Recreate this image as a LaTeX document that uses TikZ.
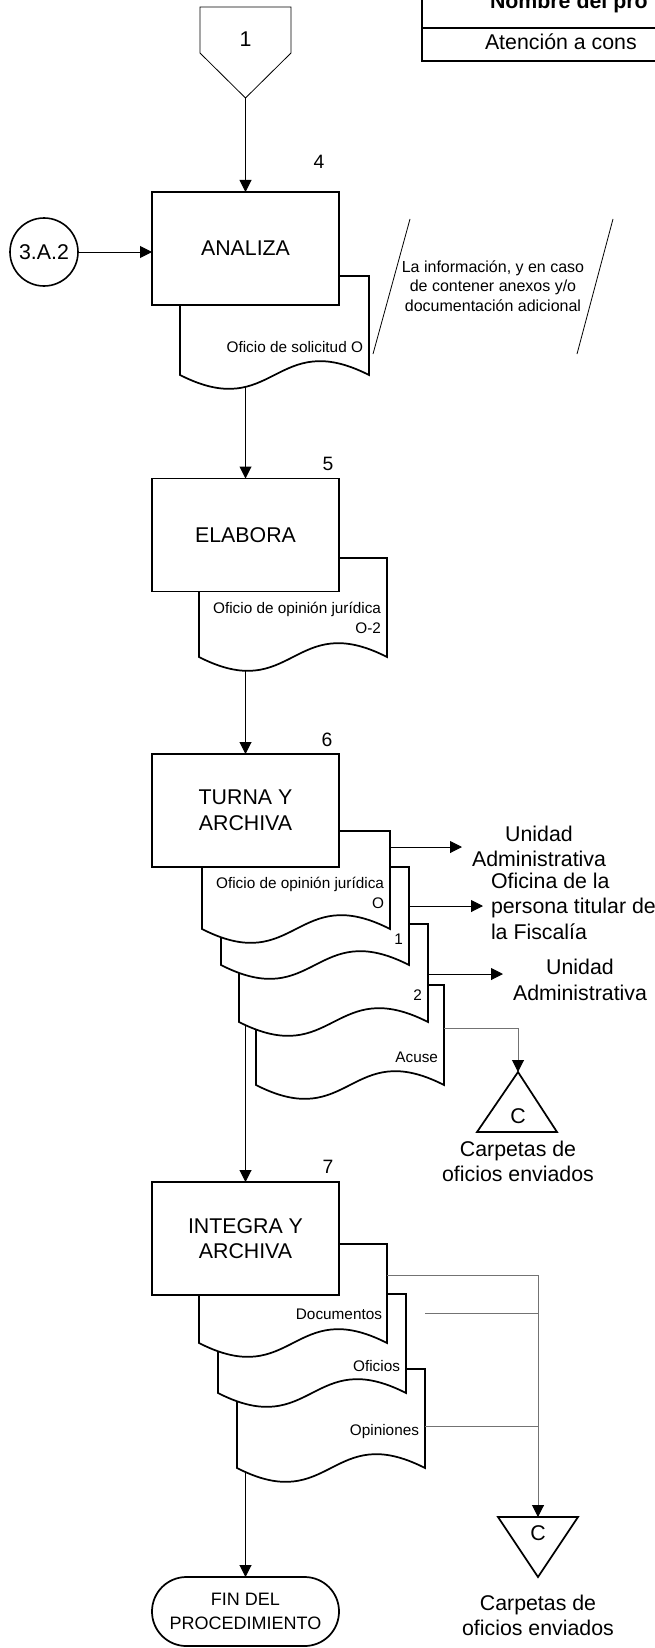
\documentclass[tikz,border=0pt]{standalone}
\usepackage{fontspec}
\setmainfont{Liberation Sans}
\usetikzlibrary{arrows.meta}
\pgfdeclarelayer{back}
\pgfsetlayers{back,main}
\newcommand\FtBig{\fontsize{16}{19.2}\selectfont}
\newcommand\FtNum{\fontsize{14.5}{17}\selectfont}
\newcommand\FtDoc{\fontsize{11.5}{15}\selectfont}
\newcommand\FtAnn{\fontsize{12}{14.6}\selectfont}
\newcommand\FtFin{\fontsize{13.5}{18}\selectfont}
\newcommand\DocShape[4]{\path[docstyle] (#1,#2) -- (#3,#2) -- (#3,#4) .. controls ({(#1+#3)/2},{#4-48}) and ({(#1+#3)/2},{#4+48}) .. (#1,#4) -- cycle;}
\begin{document}
\begin{tikzpicture}[x=0.75pt,y=-0.75pt,
  every node/.style={inner sep=0pt, outer sep=0pt},
  procbox/.style={draw, fill=white, line width=1.3pt, minimum width=140.25pt, minimum height=84.75pt, align=center, font=\FtBig},
  docstyle/.style={draw, fill=white, line width=1.3pt, line join=miter},
  doclabel/.style={font=\FtDoc, align=right, anchor=east},
  numlabel/.style={font=\FtNum},
  biglabel/.style={font=\FtBig, align=center},
  arr/.style={-{Triangle[length=9pt,width=9pt]}, line width=0.75pt},
  grayline/.style={line width=0.75pt, draw=black!55},
  grayarr/.style={grayline, -{Triangle[length=9pt,width=9pt,color=black]}},
  tri/.style={draw, line width=1.3pt, line join=miter},
  thinline/.style={line width=0.6pt}
]
\useasboundingbox (0,0) rectangle (654,1648);

% header table
\draw[line width=1.5pt] (422,-5) -- (422,61) -- (660,61);
\draw[line width=1.5pt] (422,28) -- (660,28);
\node[anchor=base west, font=\FtBig\bfseries] (tname) at (490,8.5) {Nombre del pro};
\node[anchor=base west, font=\FtBig] (tval) at (485,50) {Atención a cons};

% off-page connector 1
\draw[thinline] (200,7) -- (291,7) -- (291,53) -- (245.5,98) -- (200,53) -- cycle;
\node[font=\FtBig] (p1) at (245.5,39) {1};
\coordinate (p1tip) at (245.5,98);

% step numbers
\node[numlabel] (n4) at (319,162) {4};
\node[numlabel] (n5) at (328,464) {5};
\node[numlabel] (n6) at (327,740) {6};
\node[numlabel] (n7) at (328,1167) {7};

% ANALIZA
\DocShape{180}{276}{369}{375}
\node[procbox] (analiza) at (245.5,248.5) {ANALIZA};
\node[doclabel] (dl0) at (363,347) {Oficio de solicitud O};
\node[circle, draw, line width=1.2pt, minimum size=51pt, font=\FtBig] (c3a2) at (44,252) {3.A.2};
\draw[arr] (c3a2) -- (c3a2 -| analiza.west);

% annotation
\draw[thinline] (410,219) -- (373,354);
\draw[thinline] (613,219) -- (577,354);
\node[font=\FtAnn, align=center] (annot) at (493,286) {La información, y en caso\\de contener anexos y/o\\documentación adicional};

% ELABORA
\DocShape{199}{558}{387}{657}
\node[procbox] (elabora) at (245.5,535) {ELABORA};
\node[doclabel] (dl1) at (381,618) {Oficio de opinión jurídica\\O-2};

% TURNA Y ARCHIVA
\DocShape{256}{985}{444}{1085}
\DocShape{239}{924}{428}{1022}
\DocShape{221}{867}{409}{965}
\DocShape{202}{831}{390}{929}
\node[procbox] (turna) at (245.5,810.5) {TURNA Y\\ARCHIVA};
\node[doclabel] (dl2) at (384,892.5) {Oficio de opinión jurídica\\O};
\node[doclabel] (dl3) at (403,939) {1};
\node[doclabel] (dl4) at (422,995) {2};
\node[doclabel] (dl5) at (438,1057) {Acuse};

\coordinate (d1r) at (390,847);
\coordinate (d2r) at (409,906);
\coordinate (d3r) at (428,974);
\coordinate (d4r) at (444,1028);
\coordinate (ua1tip) at (462,847);
\coordinate (ofitip) at (483,906);
\coordinate (ua2tip) at (503,974);
\node[biglabel] (ua1) at (539,846.5) {Unidad\\Administrativa};
\node[font=\FtBig, align=left, anchor=west] (ofi) at (491,906) {Oficina de la\\persona titular de\\la Fiscalía};
\node[biglabel] (ua2) at (580,980) {Unidad\\Administrativa};
\draw[arr] (d1r) -- (ua1tip);
\draw[arr] (d2r) -- (ofitip);
\draw[arr] (d3r) -- (ua2tip);

% archive triangle 1
\draw[tri] (518,1072) -- (557,1132) -- (477,1132) -- cycle;
\coordinate (tri1top) at (518,1072);
\node[font=\FtBig] (tc1) at (518,1116) {C};
\node[biglabel] (carp1) at (518,1161.5) {Carpetas de\\oficios enviados};
\draw[grayarr] (d4r) -| (tri1top);

% INTEGRA Y ARCHIVA
\DocShape{237}{1369}{425}{1468}
\DocShape{218}{1294}{406}{1393}
\DocShape{199}{1244}{387}{1343}
\node[procbox] (integra) at (245.5,1238.5) {INTEGRA Y\\ARCHIVA};
\node[doclabel] (dl6) at (382,1314) {Documentos};
\node[doclabel] (dl7) at (400,1366) {Oficios};
\node[doclabel] (dl8) at (419,1432) {Opiniones};

\coordinate (e1r) at (387,1275);
\coordinate (e2) at (425,1313);
\coordinate (e3r) at (425,1426);
\coordinate (jn) at (538,1275);
\coordinate (tri2top) at (538,1517);
\draw[grayline] (e1r) -- (jn);
\draw[grayline] (e2) -- (e2 -| jn);
\draw[grayline] (e3r) -- (e3r -| jn);
\draw[grayarr] (jn) -- (tri2top);

% archive triangle 2
\draw[tri] (498,1517) -- (578,1517) -- (538,1577) -- cycle;
\node[font=\FtBig] (tc2) at (538,1533) {C};
\node[biglabel] (carp2) at (538,1615.5) {Carpetas de\\oficios enviados};

% end terminal
\node[draw, line width=1.3pt, rounded corners=25.8pt, minimum width=140.25pt, minimum height=51.75pt, align=center, font=\FtFin] (fin) at (245.5,1611.5) {FIN DEL\\PROCEDIMIENTO};

% main flow connectors (behind documents)
\begin{pgfonlayer}{back}
\draw[arr] (p1tip) -- (analiza.north);
\draw[arr] (analiza.south) -- (elabora.north);
\draw[arr] (elabora.south) -- (turna.north);
\draw[arr] (turna.south) -- (integra.north);
\draw[arr] (integra.south) -- (fin.north);
\end{pgfonlayer}
\end{tikzpicture}
\end{document}
